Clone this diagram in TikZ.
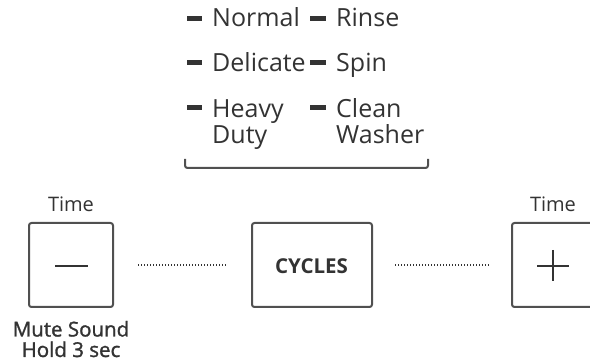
\documentclass[tikz,border=0pt]{standalone}
\usepackage{fontspec}
\setmainfont{Open Sans}
\newfontfamily\semib[FakeBold=1.3]{Open Sans}
\definecolor{ink}{HTML}{333333}
\definecolor{frame}{HTML}{505050}
\begin{document}
\begin{tikzpicture}[x=1pt,y=-1pt,
  btn/.style={draw=frame,line width=2pt,rounded corners=2.5pt,minimum height=84pt,inner sep=0pt},
  lbl/.style={text=ink,inner sep=0pt},
  item/.style={text=ink,inner sep=0pt,anchor=base west,font=\fontsize{25}{26}\selectfont},
  bar/.style={fill=ink},
  dots/.style={draw=ink,line width=1.6pt,dash pattern=on 1.4pt off 1.6pt}]
\useasboundingbox (0,0) rectangle (590,363);
\clip (0,0) rectangle (590,363);
% list
\fill[bar] (187,16.5) rectangle (202,21.5);
\node[item] (normal) at (212,27) {Normal};
\fill[bar] (310,16.5) rectangle (326,21.5);
\node[item] (rinse) at (336,27) {Rinse};
\fill[bar] (187,60.5) rectangle (202,65.5);
\node[item] (delicate) at (212,72) {Delicate};
\fill[bar] (310,60.5) rectangle (326,65.5);
\node[item] (spin) at (336,72) {Spin};
\fill[bar] (187,105.5) rectangle (202,110.5);
\node[item] (heavy) at (212,118) {Heavy};
\node[item] (duty) at (212,144) {Duty};
\fill[bar] (310,105.5) rectangle (326,110.5);
\node[item] (clean) at (336,118) {Clean};
\node[item] (washer) at (336,144) {Washer};
% bracket
\draw[draw=frame,line width=2pt,rounded corners=2.5pt] (185,159) -- (185,168) -- (428,168) -- (428,159);
% buttons
\node[btn,minimum width=84pt] (minus) at (71,265) {};
\node[btn,minimum width=120pt] (cycles) at (312,265) {};
\node[btn,minimum width=84pt] (plus) at (554,265) {};
\node[lbl,font=\fontsize{20.5}{22}\selectfont\bfseries] (cyctext) at (311.5,266) {CYCLES};
\draw[draw=ink,line width=2pt] (55,266) -- (88,266);
\draw[draw=ink,line width=2pt] (537,266) -- (569,266);
\draw[draw=ink,line width=2pt] (553,250) -- (553,281);
% labels
\node[lbl,font=\fontsize{20}{22}\selectfont,anchor=base] (timel) at (71,212) {Time};
\node[lbl,font=\fontsize{20}{22}\selectfont,anchor=base] (timer) at (553,212) {Time};
\node[lbl,font=\semib\fontsize{20.5}{20.5}\selectfont,align=center,anchor=base] (mute) at (71,357) {Mute Sound\\Hold 3 sec};
% dotted connectors
\draw[dots,shorten <=24pt,shorten >=24pt] (minus.east) -- (cycles.west);
\draw[dots,shorten <=22pt,shorten >=21pt] (cycles.east) -- (plus.west);
\end{tikzpicture}
\end{document}
